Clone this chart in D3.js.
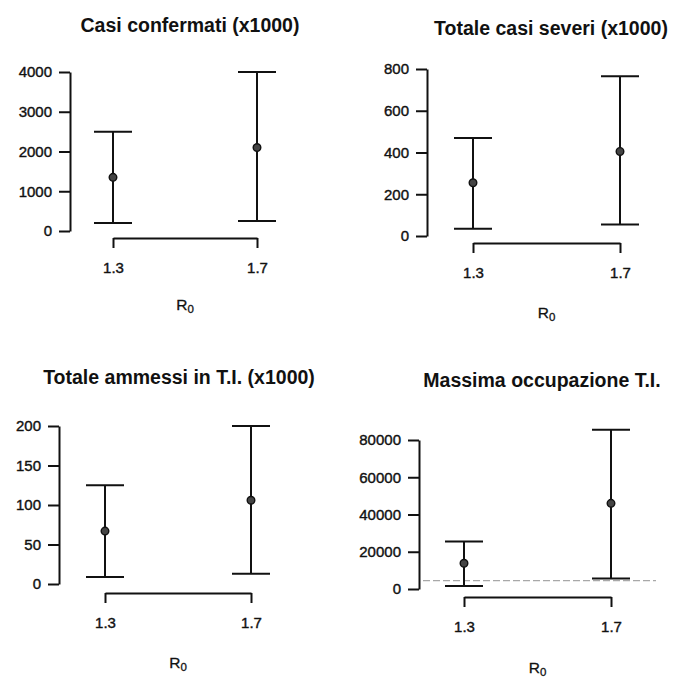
<!DOCTYPE html>
<html><head><meta charset="utf-8">
<script src="https://cdn.jsdelivr.net/npm/d3@7"></script>
<style>
html,body{margin:0;padding:0;background:#fff;}
svg text{font-family:"Liberation Sans",Arial,Helvetica,sans-serif;fill:#111;}
</style></head>
<body><svg id="chart" width="683" height="686"></svg>
<script>
// ---- data ----
const titles = ["Casi confermati (x1000)", "Totale casi severi (x1000)", "Totale ammessi in T.I. (x1000)", "Massima occupazione T.I."];
const r0Labels = ["1.3", "1.7"];
const lowerCasi = [200, 250],   midCasi = [1350, 2100],  upperCasi = [2500, 4000];
const lowerSev  = [35, 55],     midSev  = [255, 405],    upperSev  = [470, 765];
const lowerAmm  = [9, 13],      midAmm  = [67, 106],     upperAmm  = [125, 200];
const lowerOcc  = [1600, 5700], midOcc  = [13800, 46000], upperOcc = [25500, 85500];
const ticksCasi = [0, 1000, 2000, 3000, 4000];
const ticksSev  = [0, 200, 400, 600, 800];
const ticksAmm  = [0, 50, 100, 150, 200];
const ticksOcc  = [0, 20000, 40000, 60000, 80000];
const capacityLine = [null, null, null, 4500];

const lowers = [lowerCasi, lowerSev, lowerAmm, lowerOcc];
const mids = [midCasi, midSev, midAmm, midOcc];
const uppers = [upperCasi, upperSev, upperAmm, upperOcc];
const yTicks = [ticksCasi, ticksSev, ticksAmm, ticksOcc];

// ---- layout ----
const layout = [
  {ax:70,  yr:[231,72],  xr:[113,257], xy:238, tx:190, ty:32,  ry:310},
  {ax:427, yr:[236,69],  xr:[473,620], xy:243, tx:551, ty:35,  ry:318},
  {ax:59,  yr:[584,426], xr:[105,251], xy:593, tx:179, ty:384, ry:668},
  {ax:419, yr:[589,440], xr:[464,611], xy:597, tx:542, ty:387, ry:673}
];

const svg = d3.select("#chart");
const ink = "#111";
const sw = 2;

layout.forEach((L, i) => {
  const g = svg.append("g");
  const ticks = yTicks[i];
  const y = d3.scaleLinear().domain([0, d3.max(ticks)]).range(L.yr);
  const x = d3.scalePoint().domain(r0Labels).range(L.xr).padding(0);

  // title
  g.append("text").attr("x", L.tx).attr("y", L.ty).attr("text-anchor", "middle")
    .attr("font-size", 19.5).attr("font-weight", "bold").text(titles[i]);

  // y axis
  const ya = g.append("g").attr("transform", `translate(${L.ax},0)`)
    .call(d3.axisLeft(y).tickValues(ticks).tickFormat(d3.format("d")).tickSize(11).tickSizeOuter(0).tickPadding(7));
  ya.selectAll("path,line").attr("stroke", ink).attr("stroke-width", sw);
  ya.selectAll("text").attr("font-size", 15).attr("fill", ink).attr("stroke", ink).attr("stroke-width", 0.4)
    .style("font-family", "Liberation Sans, Arial, sans-serif");

  // x axis
  const xa = g.append("g").attr("transform", `translate(0,${L.xy})`)
    .call(d3.axisBottom(x).tickSize(10).tickSizeOuter(0).tickPadding(14));
  xa.selectAll("path,line").attr("stroke", ink).attr("stroke-width", sw);
  xa.selectAll("text").attr("font-size", 15).attr("fill", ink).attr("stroke", ink).attr("stroke-width", 0.4)
    .style("font-family", "Liberation Sans, Arial, sans-serif");

  // x axis title R0
  const rx = (L.xr[0] + L.xr[1]) / 2;
  const t = g.append("text").attr("x", rx).attr("y", L.ry).attr("text-anchor", "middle").attr("font-size", 15.5)
    .attr("stroke", ink).attr("stroke-width", 0.3);
  t.append("tspan").text("R");
  t.append("tspan").attr("font-size", 11.5).attr("dy", 3).text("0");

  // threshold dashed line
  if (capacityLine[i] != null) {
    g.append("line").attr("x1", L.ax + 4).attr("x2", L.xr[1] + 45)
      .attr("y1", y(capacityLine[i])).attr("y2", y(capacityLine[i]))
      .attr("stroke", "#a8a8a8").attr("stroke-width", 1.4).attr("stroke-dasharray", "7,3");
  }

  // error bars
  const cap = 19;
  r0Labels.forEach((r, j) => {
    const cx = x(r);
    g.append("line").attr("x1", cx).attr("x2", cx).attr("y1", y(lowers[i][j])).attr("y2", y(uppers[i][j]))
      .attr("stroke", ink).attr("stroke-width", sw);
    [lowers[i][j], uppers[i][j]].forEach(v => {
      g.append("line").attr("x1", cx - cap).attr("x2", cx + cap).attr("y1", y(v)).attr("y2", y(v))
        .attr("stroke", ink).attr("stroke-width", sw);
    });
    g.append("circle").attr("cx", cx).attr("cy", y(mids[i][j])).attr("r", 3.8)
      .attr("fill", "#444").attr("stroke", ink).attr("stroke-width", 1.4);
  });
});
</script>
</body></html>
